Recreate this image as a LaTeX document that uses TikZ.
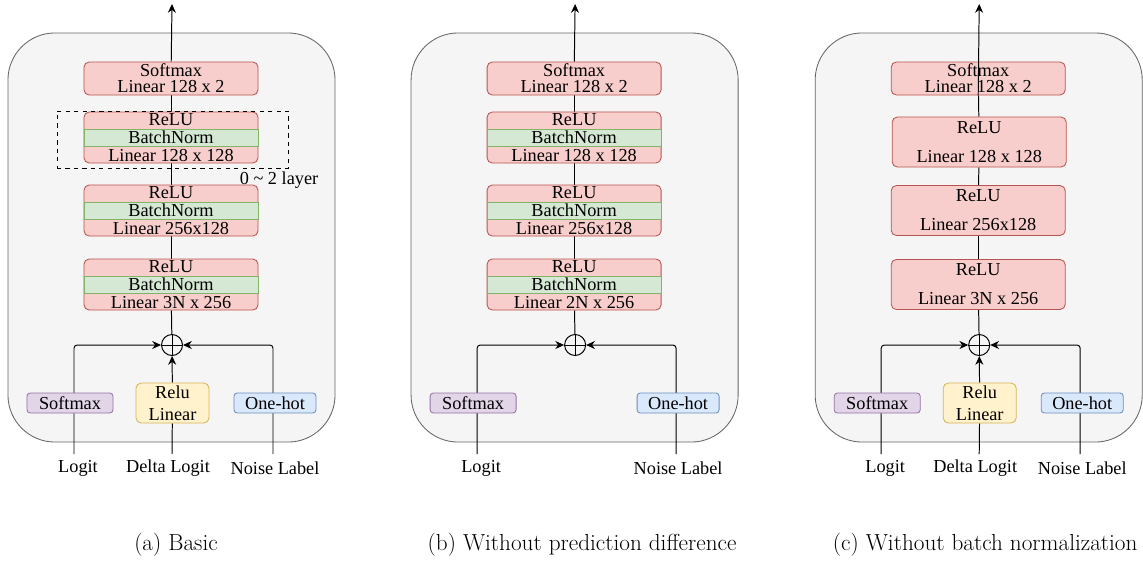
\documentclass[tikz,border=0pt]{standalone}
\usepackage{fontspec}
\newfontfamily\drawfont{Liberation Serif}
\usetikzlibrary{positioning,arrows.meta}
\definecolor{layred}{HTML}{F8CECC}
\definecolor{layredline}{HTML}{B85450}
\definecolor{bngreen}{HTML}{D5E8D4}
\definecolor{bngreenline}{HTML}{82B366}
\definecolor{smpurple}{HTML}{E1D5E7}
\definecolor{smpurpleline}{HTML}{9673A6}
\definecolor{rlyellow}{HTML}{FFF2CC}
\definecolor{rlyellowline}{HTML}{D6B656}
\definecolor{ohblue}{HTML}{DAE8FC}
\definecolor{ohblueline}{HTML}{6C8EBF}
\definecolor{panelgray}{HTML}{F5F5F5}
\definecolor{panelline}{HTML}{666666}
\pgfdeclarelayer{bg}
\pgfdeclarelayer{edges}
\pgfsetlayers{bg,edges,main}
\tikzset{
  panel/.style={draw=panelline, fill=panelgray, rounded corners=1.175cm, line width=0.6pt, minimum width=8.175cm, minimum height=10.225cm},
  layerbox/.style={draw=layredline, fill=layred, rounded corners=0.13cm, line width=0.6pt, minimum width=4.35cm, minimum height=1.275cm},
  headbox/.style={layerbox, minimum height=0.825cm, align=center, inner sep=0pt},
  relbox/.style={layerbox, minimum height=1.25cm, align=center, inner sep=0pt},
  bnband/.style={draw=bngreenline, fill=bngreen, line width=0.6pt, minimum width=4.35cm, minimum height=0.425cm, inner sep=0pt},
  sect/.style={minimum height=0.425cm, inner sep=0pt},
  smbox/.style={draw=smpurpleline, fill=smpurple, rounded corners=0.08cm, line width=0.6pt, minimum width=2.15cm, minimum height=0.5cm, inner sep=0pt},
  rlbox/.style={draw=rlyellowline, fill=rlyellow, rounded corners=0.13cm, line width=0.6pt, minimum width=1.825cm, minimum height=1cm, align=center, inner sep=0pt},
  ohbox/.style={draw=ohblueline, fill=ohblue, rounded corners=0.08cm, line width=0.6pt, minimum width=2.05cm, minimum height=0.5cm, inner sep=0pt},
  plusnode/.style={draw, circle, fill=panelgray, minimum size=0.525cm, inner sep=0pt, line width=0.7pt},
  repbox/.style={draw, dashed, line width=0.6pt, minimum width=5.775cm, minimum height=1.425cm},
  wire/.style={line width=0.7pt},
  feed/.style={wire, -{Stealth[length=0.22cm,width=0.2cm]}, rounded corners=0.08cm},
  capnode/.style={font=\rmfamily\fontsize{16.5}{19}\selectfont}
}

\begin{document}
\begin{tikzpicture}[x=0.025cm, y=-0.025cm, every node/.style={font=\drawfont\fontsize{13}{11.5}\selectfont}]
  \useasboundingbox (0,0) rectangle (1143,561);

  % (a) basic
  \node[headbox] (a-sm) at (171,78.5) {Softmax\\Linear 128 x 2};
  \foreach \n/\y/\lin in {1/137.5/Linear 128 x 128, 2/210.5/Linear 256x128, 3/284.5/Linear 3N x 256} {
    \node[layerbox] (a-l\n) at (171,\y) {};
    \node[bnband] (a-bn\n) at (a-l\n) {BatchNorm};
    \node[sect, above=0pt of a-bn\n] {ReLU};
    \node[sect, below=0pt of a-bn\n] {\lin};
  }
  \node[repbox] (a-rep) at (172.5,139.5) {};
  \node (a-rept) at (279,180) {0 \textasciitilde{} 2 layer};
  \node[plusnode] (a-plus) at (172,345) {};
  \draw[wire] (a-plus.north) -- (a-plus.south) (a-plus.west) -- (a-plus.east);
  \node[smbox] (a-smx) at (70,403) {Softmax};
  \node[rlbox] (a-rl) at (172.5,403) {Relu\\[4pt]Linear};
  \node[ohbox] (a-oh) at (275,403) {One-hot};
  \node (a-logit) at (78,468) {Logit};
  \node (a-delta) at (168,468) {Delta Logit};
  \node (a-noise) at (275,468) {Noise Label};
  \coordinate (a-x1) at (74,454);
  \coordinate (a-x2) at (172,454);
  \coordinate (a-x3) at (273,454);
  \coordinate (a-top) at (172,4);
  \node[capnode] (a-cap) at (176,545) {(a) Basic};
  \begin{pgfonlayer}{bg}
    \node[panel] (a-box) at (171.5,237.5) {};
  \end{pgfonlayer}
  \begin{pgfonlayer}{edges}
    \draw[feed] (a-x1) |- (a-plus.west);
    \draw[wire] (a-x2) -- (a-rl);
    \draw[feed] (a-rl) -- (a-plus);
    \draw[feed] (a-x3) |- (a-plus.east);
    \draw[wire] (a-plus) -- (a-l3);
    \draw[wire] (a-l3) -- (a-l2);
    \draw[wire] (a-l2) -- (a-l1);
    \draw[wire] (a-l1) -- (a-sm);
    \draw[feed] (a-sm) -- (a-top);
  \end{pgfonlayer}

  % (b) without prediction difference
  \begin{scope}[xshift=10.075cm]
  \node[headbox] (b-sm) at (171,78.5) {Softmax\\Linear 128 x 2};
  \foreach \n/\y/\lin in {1/137.5/Linear 128 x 128, 2/210.5/Linear 256x128, 3/284.5/Linear 2N x 256} {
    \node[layerbox] (b-l\n) at (171,\y) {};
    \node[bnband] (b-bn\n) at (b-l\n) {BatchNorm};
    \node[sect, above=0pt of b-bn\n] {ReLU};
    \node[sect, below=0pt of b-bn\n] {\lin};
  }
  \node[plusnode] (b-plus) at (172,345) {};
  \draw[wire] (b-plus.north) -- (b-plus.south) (b-plus.west) -- (b-plus.east);
  \node[smbox] (b-smx) at (70,403) {Softmax};
  \node[ohbox] (b-oh) at (275,403) {One-hot};
  \node (b-logit) at (78,468) {Logit};
  \node (b-noise) at (275,468) {Noise Label};
  \coordinate (b-x1) at (74,454);
  \coordinate (b-x3) at (273,454);
  \coordinate (b-top) at (172,4);
  \node[capnode] (b-cap) at (179,545) {(b) Without prediction difference};
  \begin{pgfonlayer}{bg}
    \node[panel] (b-box) at (171.5,237.5) {};
  \end{pgfonlayer}
  \begin{pgfonlayer}{edges}
    \draw[feed] (b-x1) |- (b-plus.west);
    \draw[feed] (b-x3) |- (b-plus.east);
    \draw[wire] (b-plus) -- (b-l3);
    \draw[wire] (b-l3) -- (b-l2);
    \draw[wire] (b-l2) -- (b-l1);
    \draw[wire] (b-l1) -- (b-sm);
    \draw[feed] (b-sm) -- (b-top);
  \end{pgfonlayer}
  \end{scope}

  % (c) without batch normalization
  \begin{scope}[xshift=20.175cm]
  \node[headbox] (c-sm) at (171,78.5) {Softmax\\Linear 128 x 2};
  \node[relbox] (c-l1) at (172,142) {ReLU\\[9pt]Linear 128 x 128};
  \node[relbox] (c-l2) at (171,210.5) {ReLU\\[9pt]Linear 256x128};
  \node[relbox] (c-l3) at (171,284.5) {ReLU\\[9pt]Linear 3N x 256};
  \node[plusnode] (c-plus) at (172,345) {};
  \draw[wire] (c-plus.north) -- (c-plus.south) (c-plus.west) -- (c-plus.east);
  \node[smbox] (c-smx) at (70,403) {Softmax};
  \node[rlbox] (c-rl) at (172.5,403) {Relu\\[4pt]Linear};
  \node[ohbox] (c-oh) at (275,403) {One-hot};
  \node (c-logit) at (78,468) {Logit};
  \node (c-delta) at (168,468) {Delta Logit};
  \node (c-noise) at (275,468) {Noise Label};
  \coordinate (c-x1) at (74,454);
  \coordinate (c-x2) at (172,454);
  \coordinate (c-x3) at (273,454);
  \coordinate (c-top) at (172,4);
  \node[capnode] (c-cap) at (178,545) {(c) Without batch normalization};
  \draw[feed] (c-sm.south) -- (c-top);
  \begin{pgfonlayer}{bg}
    \node[panel] (c-box) at (171.5,237.5) {};
  \end{pgfonlayer}
  \begin{pgfonlayer}{edges}
    \draw[feed] (c-x1) |- (c-plus.west);
    \draw[wire] (c-x2) -- (c-rl);
    \draw[feed] (c-rl) -- (c-plus);
    \draw[feed] (c-x3) |- (c-plus.east);
    \draw[wire] (c-plus) -- (c-l3);
    \draw[wire] (c-l3) -- (c-l2);
    \draw[wire] (c-l2) -- (c-l1);
    \draw[wire] (c-l1) -- (c-sm);
  \end{pgfonlayer}
  \end{scope}
\end{tikzpicture}
\end{document}
